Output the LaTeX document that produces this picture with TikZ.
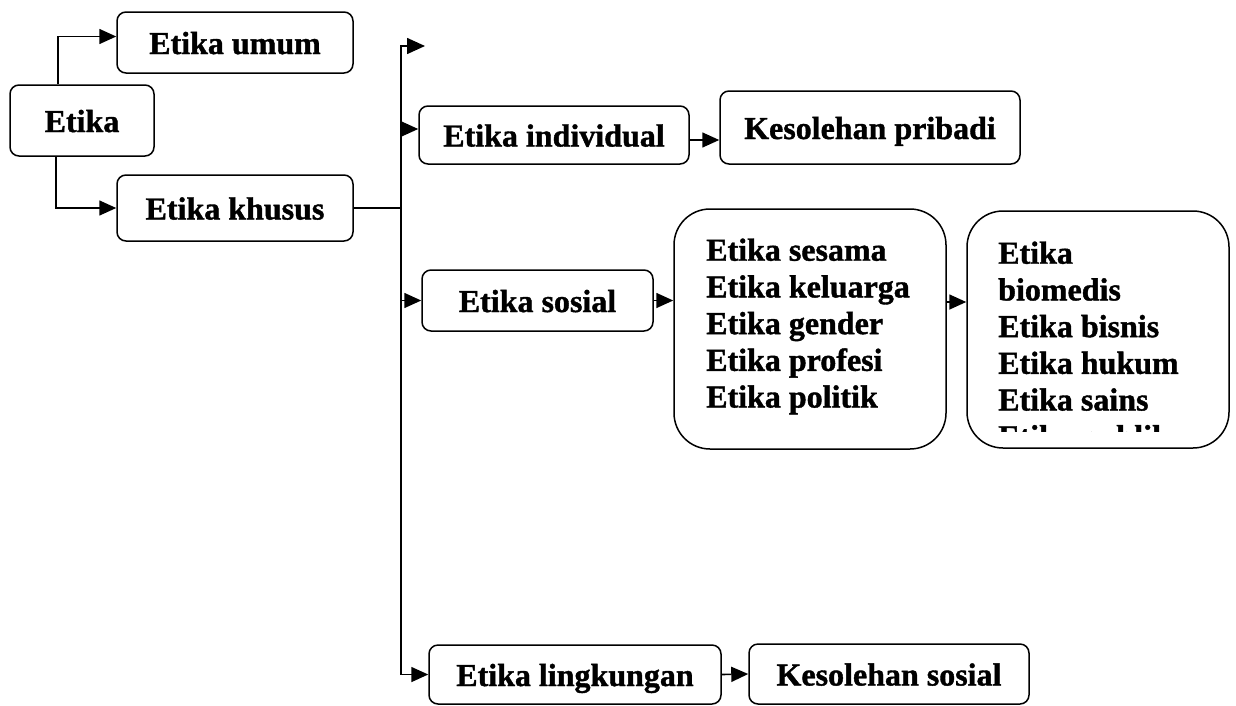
\documentclass[tikz,border=0pt]{standalone}
\usepackage{fontspec}
\setmainfont{Liberation Serif}[BoldFeatures={FakeBold=1.2}]
\usetikzlibrary{arrows.meta}
\begin{document}
\begin{tikzpicture}[x=1pt,y=-1pt,
  box/.style={draw, line width=1.5pt, rounded corners=9pt, inner sep=0pt,
    text height=23pt, text depth=0pt,
    font=\bfseries\fontsize{32}{36.7}\selectfont, align=center},
  bigbox/.style={draw, line width=1.5pt, rounded corners=36pt, inner sep=0pt},
  listtext/.style={anchor=north west, inner sep=0pt, align=left,
    font=\bfseries\fontsize{32}{36.7}\selectfont},
  conn/.style={line width=1.6pt},
  arr/.style={conn, -{Triangle[length=17pt,width=15pt]}},
  bigarr/.style={conn, -{Triangle[length=18pt,width=16pt]}}]
\useasboundingbox (0,0) rectangle (1236,705);
% boxes
\node[box, minimum width=144pt, minimum height=71pt] (etika) at (82,120.5) {Etika};
\node[box, minimum width=236pt, minimum height=61pt] (umum) at (235,42.5) {Etika umum};
\node[box, minimum width=236pt, minimum height=66pt] (khusus) at (235,208) {Etika khusus};
\node[box, minimum width=270pt, minimum height=58pt] (indiv) at (554,135) {Etika individual};
\node[box, minimum width=300pt, minimum height=73pt] (kes) at (870,127.5) {Kesolehan pribadi};
\node[box, minimum width=231pt, minimum height=61pt] (sosial) at (537.5,300.5) {Etika sosial};
\node[bigbox, minimum width=272pt, minimum height=240pt] (list1) at (810,329) {};
\node[bigbox, minimum width=262pt, minimum height=237pt] (list2) at (1098,329.5) {};
\node[box, minimum width=292pt, minimum height=59pt] (lingk) at (575,674.5) {Etika lingkungan};
\node[box, minimum width=280pt, minimum height=60pt] (kessos) at (889,674) {Kesolehan sosial};
% list texts
\node[listtext] (l1text) at (706,238.3) {Etika sesama\\Etika keluarga\\Etika gender\\Etika profesi\\Etika politik};
\begin{scope}
  \clip (967,211) rectangle (1229,431);
  \node[listtext] (l2text) at (998,241.3) {Etika\\biomedis\\Etika bisnis\\Etika hukum\\Etika sains\\Etika publik};
\end{scope}
% helper coordinates
\coordinate (trunkTop) at (401,46);
\coordinate (topEnd) at (425,46);
\coordinate (ia) at ([yshift=6pt]indiv.west);
\coordinate (ib) at ([yshift=-5pt]indiv.east);
\coordinate (la) at ([yshift=27pt]list1.east);
% connectors
\draw[arr] ([xshift=-24pt]etika.north) |- ([yshift=6pt]umum.west);
\draw[arr] ([xshift=-26pt]etika.south) |- (khusus.west);
\draw[conn] (khusus.east) -- (khusus.east -| trunkTop);
\draw[bigarr] (lingk.west -| trunkTop) -- (trunkTop) -- (topEnd);
\draw[arr] (ia -| trunkTop) -- (ia);
\draw[arr] (sosial.west -| trunkTop) -- (sosial.west);
\draw[arr] (lingk.west -| trunkTop) -- (lingk.west);
\draw[arr] (ib) -- (ib -| kes.west);
\draw[arr] (sosial.east) -- (sosial.east -| list1.west);
\draw[arr] (la) -- (la -| list2.west);
\draw[arr] (lingk.east) -- (kessos.west);
\end{tikzpicture}
\end{document}
